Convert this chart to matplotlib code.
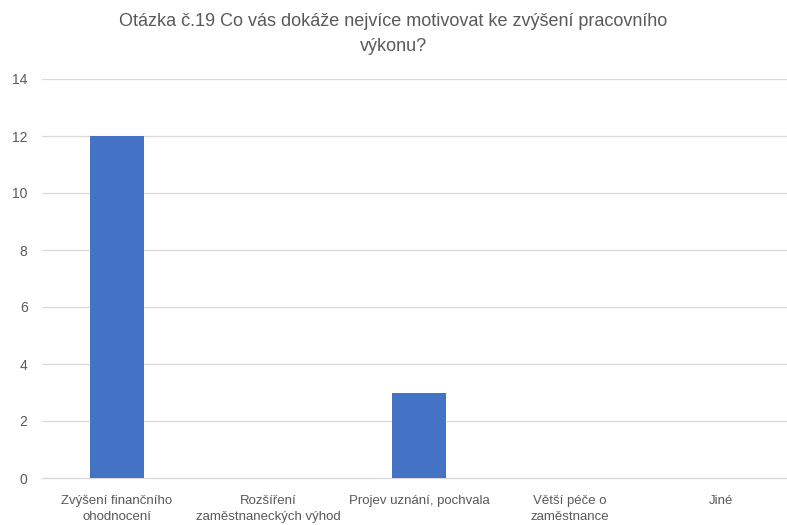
import numpy as np
import matplotlib.pyplot as plt

categories = ["Zvýšení finančního\nohodnocení", "Rozšíření\nzaměstnaneckých výhod",
              "Projev uznání, pochvala", "Větší péče o\nzaměstnance", "Jiné"]
values = [12, 0, 3, 0, 0]
yticks = [0, 2, 4, 6, 8, 10, 12, 14]

plt.rcParams['font.family'] = ['Liberation Sans', 'DejaVu Sans']
text_color = "#595959"

fig = plt.figure(figsize=(7.87, 5.25), dpi=100)
# plot area runs past the right edge, like the source
ax = fig.add_axes([41.5 / 787, 1 - 478 / 525, 755 / 787, (478 - 79) / 525])

x = np.arange(len(categories))
ax.bar(x, values, width=0.36, color="#4472C4", zorder=3)

ax.set_xlim(-0.5, len(categories) - 0.5)
ax.set_ylim(0, 14)
ax.set_yticks(yticks)
ax.set_xticks(x)
ax.set_xticklabels(categories, fontsize=9.5, color=text_color, linespacing=1.5)
ax.tick_params(axis="y", labelsize=10, labelcolor=text_color, length=0, pad=10)
ax.tick_params(axis="x", length=0, pad=12)
ax.grid(axis="y", color="#D9D9D9", linewidth=0.9, zorder=0)
for s in ["top", "right", "left"]:
    ax.spines[s].set_visible(False)
ax.spines["bottom"].set_color("#D9D9D9")
ax.spines["bottom"].set_linewidth(0.9)

fig.text(0.5, 1 - 34 / 525, "Otázka č.19 Co vás dokáže nejvíce motivovat ke zvýšení pracovního\nvýkonu?",
         ha="center", va="center", fontsize=13, color=text_color, linespacing=1.55)

fig.savefig("out.png", dpi=100)
